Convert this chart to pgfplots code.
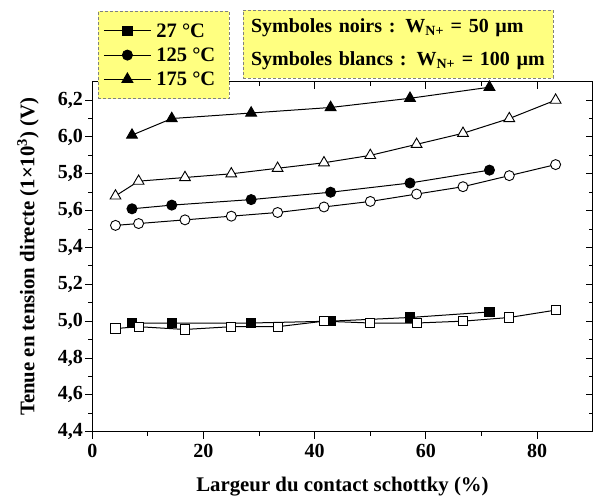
\documentclass[border=0pt]{standalone}
\usepackage{fontspec}
\setmainfont{Liberation Serif}
\usepackage{pgfplots}
\pgfplotsset{compat=1.18}
\definecolor{legyellow}{HTML}{FFFF80}

\pgfplotstableread{
x y
7.14 4.99
14.29 4.99
28.57 4.99
42.86 5.00
57.14 5.02
71.43 5.05
}\sqfilled
\pgfplotstableread{
x y
4.17 4.96
8.33 4.97
16.67 4.955
25.00 4.97
33.33 4.97
41.67 5.00
50.00 4.99
58.33 4.99
66.67 5.00
75.00 5.02
83.33 5.06
}\sqopen
\pgfplotstableread{
x y
7.14 5.61
14.29 5.63
28.57 5.66
42.86 5.70
57.14 5.75
71.43 5.82
}\cifilled
\pgfplotstableread{
x y
4.17 5.52
8.33 5.53
16.67 5.55
25.00 5.57
33.33 5.59
41.67 5.62
50.00 5.65
58.33 5.69
66.67 5.73
75.00 5.79
83.33 5.85
}\ciopen
\pgfplotstableread{
x y
7.14 6.01
14.29 6.10
28.57 6.13
42.86 6.16
57.14 6.21
71.43 6.27
}\trfilled
\pgfplotstableread{
x y
4.17 5.68
8.33 5.76
16.67 5.78
25.00 5.80
33.33 5.83
41.67 5.86
50.00 5.90
58.33 5.96
66.67 6.02
75.00 6.10
83.33 6.20
}\tropen

\begin{document}
\begin{tikzpicture}
\useasboundingbox (-92.3pt,-66.3pt) rectangle (518.7pt,431.7pt);
\pgfplotsset{
  common/.style={
    at={(0,0)}, anchor=south west,
    width=500.4pt, height=350pt, scale only axis,
    xmin=0, xmax=90, ymin=4.4, ymax=6.3,
    xtick={0,20,...,80}, ytick={4.4,4.6,...,6.21},
    minor x tick num=1, minor y tick num=1,
    major tick length=7pt, minor tick length=4pt,
    axis line style={line width=1.3pt},
    every tick/.style={line width=1pt, black},
  }
}
% top and right ticks point inwards
\begin{axis}[common,
    axis x line*=top, axis y line*=right, tick align=inside,
    xticklabels={}, yticklabels={},
  ]
\end{axis}
\begin{axis}[common,
    clip=false,
    xtick pos=bottom, ytick pos=left, tick align=outside,
    /pgf/number format/assume math mode=true,
    /pgf/number format/use comma,
    yticklabel style={/pgf/number format/fixed, /pgf/number format/fixed zerofill, /pgf/number format/precision=1, xshift=1pt},
    ticklabel style={font=\fontsize{20}{24}\selectfont\bfseries},
    xticklabel style={yshift=-2pt},
    xlabel={Largeur du contact schottky (\%)},
    ylabel={Tenue en tension directe (1×10\textsuperscript{3}) (V)},
    label style={font=\fontsize{20.8}{24}\selectfont\bfseries},
    xlabel style={at={(axis description cs:0.5,-0.158)}, anchor=center},
    ylabel style={at={(axis description cs:-0.1285,0.5)}, anchor=center},
    legend style={at={(axis description cs:0.0114,1.202)}, anchor=north west,
      fill=legyellow, draw=gray, densely dashed, line width=0.8pt,
      row sep=9pt, inner xsep=5pt, inner ysep=12pt, column sep=2pt,
      nodes={inner xsep=3pt, inner ysep=0pt, font=\fontsize{20.5}{24}\selectfont\bfseries}},
    legend cell align=left,
    legend image code/.code={
      \draw[solid, line width=1pt, #1] (0pt,0pt) -- (47pt,0pt);
      \draw[solid, #1, only marks] plot coordinates {(23.5pt,0pt)};
    },
  ]
  \addplot[black, line width=1pt, mark=square*, mark size=4.6pt, mark options={solid, fill=black}] table {\sqfilled};
  \addlegendentry{27 °C}
  \addplot[black, line width=1pt, mark=*, mark size=5pt, mark options={solid, fill=black}] table {\cifilled};
  \addlegendentry{125 °C}
  \addplot[black, line width=1pt, mark=triangle*, mark size=6.2pt, mark options={solid, fill=black}] table {\trfilled};
  \addlegendentry{175 °C\hspace*{6pt}}
  \addplot[black, line width=1pt, mark=square*, mark size=4.6pt, mark options={solid, fill=white, line width=0.9pt}, forget plot] table {\sqopen};
  \addplot[black, line width=1pt, mark=*, mark size=5pt, mark options={solid, fill=white, line width=0.9pt}, forget plot] table {\ciopen};
  \addplot[black, line width=1pt, mark=triangle*, mark size=6.2pt, mark options={solid, fill=white, line width=0.9pt}, forget plot] table {\tropen};
\end{axis}
\node[fill=legyellow, draw=gray, densely dashed, line width=0.8pt,
  text width=294pt, minimum height=68pt, align=left,
  font=\fontsize{20}{33}\selectfont\bfseries, inner xsep=8pt, inner ysep=2pt]
  at (305.7pt,387.7pt) {Symboles noirs : W\textsubscript{N+} = 50 µm\\Symboles blancs : W\textsubscript{N+} = 100 µm};
\end{tikzpicture}
\end{document}
